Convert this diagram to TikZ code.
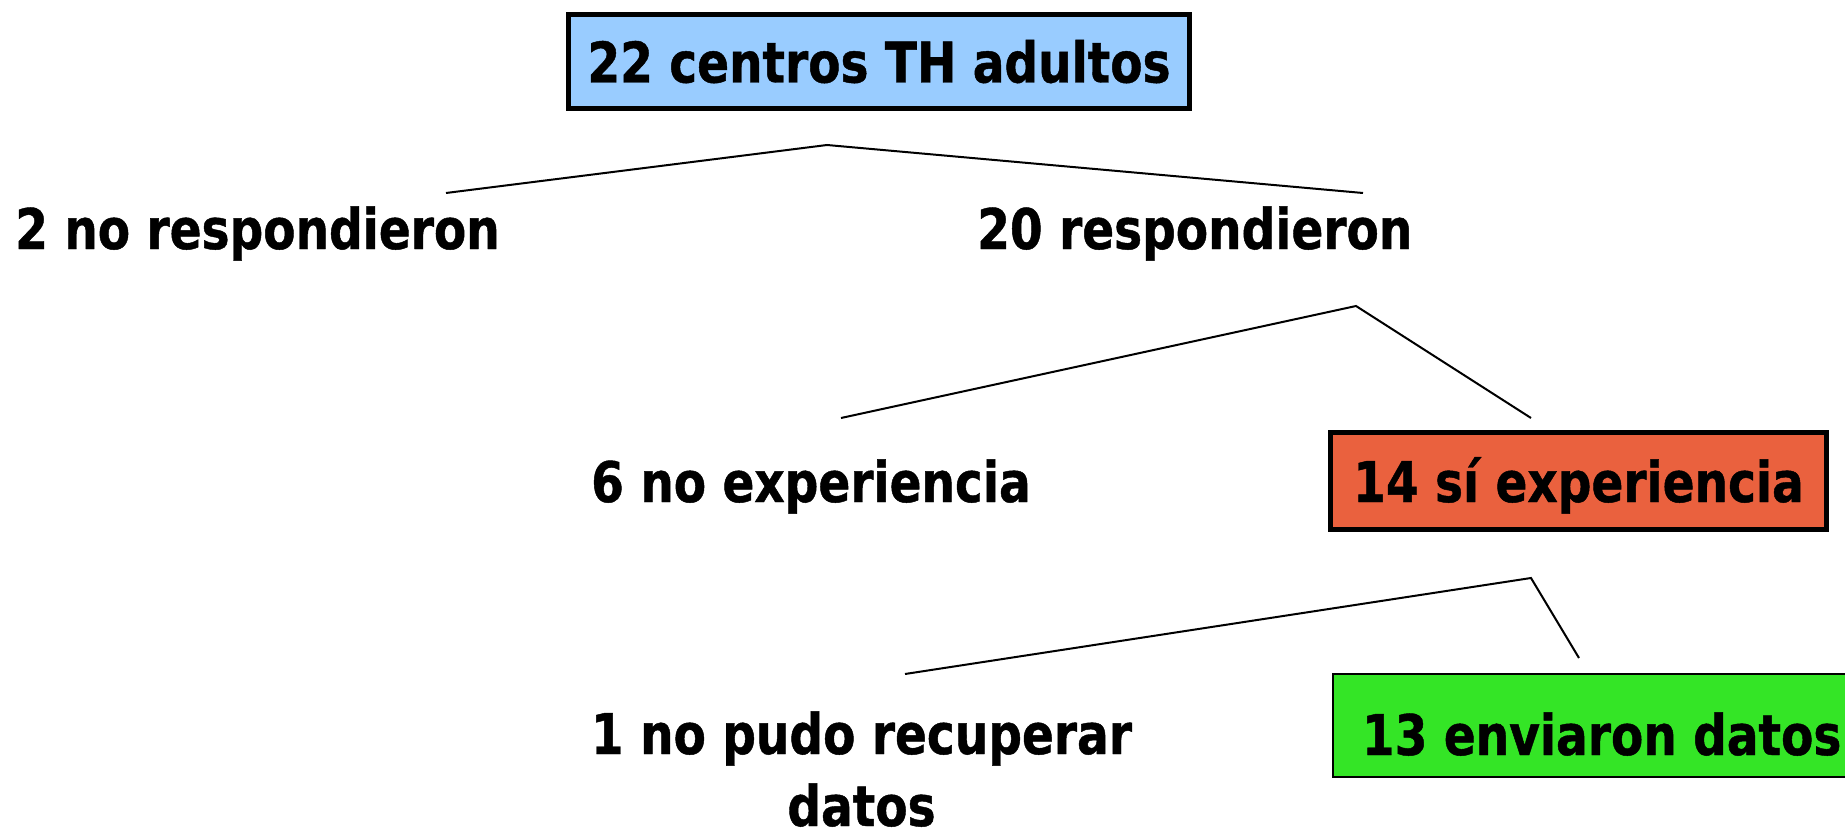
\documentclass[tikz,border=0pt]{standalone}
\usepackage{fontspec}
\newfontfamily\flowfont{DejaVu Sans}[FakeStretch=0.84,FakeBold=0.8]
\definecolor{boxblue}{RGB}{153,204,255}
\definecolor{boxred}{RGB}{234,97,62}
\definecolor{boxgreen}{RGB}{52,229,38}

\begin{document}
\begin{tikzpicture}[x=1pt,y=-1pt,
		lbl/.style={font=\flowfont\bfseries\fontsize{56}{72}\selectfont,inner sep=0pt},
		box/.style={lbl,draw=black,line width=5pt,text height=42pt,text depth=0pt},
		fork/.style={line width=2pt}]
	\useasboundingbox (0,0) rectangle (1845,840);
	\clip (0,0) rectangle (1845,840);
	\node[box,fill=boxblue,minimum width=621pt,minimum height=94pt] (centros) at (879,61.5) {22 centros TH adultos};
	\node[lbl,anchor=base west] (noresp) at (15,249) {2 no respondieron};
	\node[lbl,anchor=base west] (resp) at (977,249) {20 respondieron};
	\node[lbl,anchor=base west] (noexp) at (591,502) {6 no experiencia};
	\node[box,fill=boxred,minimum width=496pt,minimum height=97pt] (siexp) at (1578.5,481) {14 sí experiencia};
	\node[lbl,align=center,anchor=base] (nodatos) at (861.5,826) {1 no pudo recuperar\\datos};
	\node[box,fill=boxgreen,line width=2pt,anchor=west,minimum height=103pt,inner xsep=29pt,text height=60pt] (datos) at (1332,725) {13 enviaron datos};
	\coordinate (split1) at (827,145);
	\coordinate (split1l) at (446,193);
	\coordinate (split1r) at (1363,193);
	\coordinate (split2) at (1356,306);
	\coordinate (split2l) at (841,418);
	\coordinate (split2r) at (1531,418);
	\coordinate (split3) at (1531,578);
	\coordinate (split3l) at (905,674);
	\coordinate (split3r) at (1579,658);
	\draw[fork] (split1l) -- (split1) -- (split1r);
	\draw[fork] (split2l) -- (split2) -- (split2r);
	\draw[fork] (split3l) -- (split3) -- (split3r);
\end{tikzpicture}
\end{document}
